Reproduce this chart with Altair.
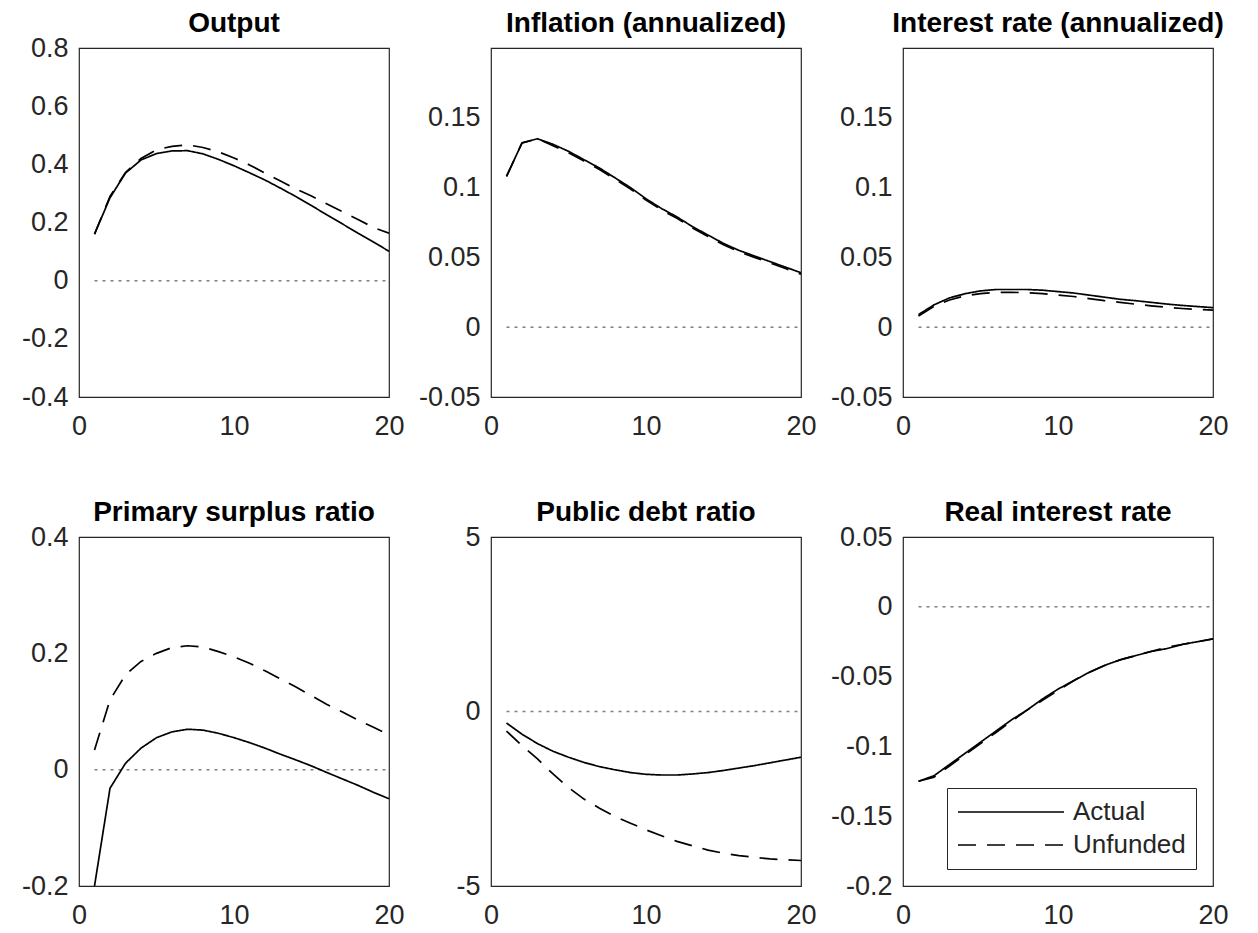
import altair as alt
import pandas as pd

# ---------------- data ----------------
T = list(range(1, 21))

output_actual = [0.160, 0.285, 0.370, 0.415, 0.437, 0.446, 0.447, 0.436, 0.417, 0.395,
                 0.371, 0.346, 0.318, 0.289, 0.258, 0.226, 0.195, 0.163, 0.133, 0.101]
output_unfunded = [0.160, 0.290, 0.372, 0.420, 0.450, 0.462, 0.467, 0.458, 0.443, 0.422,
                   0.398, 0.370, 0.343, 0.315, 0.291, 0.264, 0.237, 0.210, 0.183, 0.163]

inflation_actual = [0.108, 0.132, 0.135, 0.131, 0.126, 0.120, 0.114, 0.107, 0.100, 0.092,
                    0.085, 0.079, 0.072, 0.066, 0.060, 0.055, 0.051, 0.047, 0.043, 0.039]
inflation_unfunded = [0.108, 0.132, 0.135, 0.130, 0.125, 0.119, 0.113, 0.106, 0.099, 0.091,
                      0.084, 0.078, 0.071, 0.065, 0.059, 0.054, 0.050, 0.046, 0.042, 0.038]

interest_actual = [0.009, 0.016, 0.021, 0.024, 0.026, 0.027, 0.027, 0.027, 0.0265, 0.0255,
                   0.0245, 0.023, 0.0215, 0.020, 0.019, 0.0178, 0.0166, 0.0156, 0.0148, 0.014]
interest_unfunded = [0.008, 0.015, 0.0195, 0.0225, 0.024, 0.025, 0.025, 0.0247, 0.024, 0.023,
                     0.022, 0.0205, 0.019, 0.0178, 0.0165, 0.0153, 0.0143, 0.0134, 0.0127, 0.0122]

surplus_actual = [-0.200, -0.032, 0.011, 0.037, 0.055, 0.065, 0.0695, 0.068, 0.0625, 0.055,
                  0.0465, 0.037, 0.0265, 0.0167, 0.0064, -0.005, -0.016, -0.027, -0.039, -0.050]
surplus_unfunded = [0.034, 0.120, 0.163, 0.186, 0.200, 0.210, 0.213, 0.211, 0.203, 0.194,
                    0.183, 0.170, 0.156, 0.142, 0.127, 0.112, 0.099, 0.085, 0.073, 0.060]

debt_actual = [-0.33, -0.65, -0.92, -1.14, -1.31, -1.46, -1.58, -1.67, -1.75, -1.80,
               -1.82, -1.82, -1.79, -1.75, -1.69, -1.62, -1.55, -1.47, -1.39, -1.31]
debt_unfunded = [-0.56, -0.98, -1.36, -1.79, -2.18, -2.51, -2.77, -3.01, -3.20, -3.39,
                 -3.56, -3.72, -3.85, -3.97, -4.06, -4.13, -4.18, -4.22, -4.25, -4.27]

real_actual = [-0.125, -0.121, -0.113, -0.105, -0.097, -0.089, -0.081, -0.074, -0.066, -0.059,
               -0.053, -0.047, -0.042, -0.038, -0.035, -0.032, -0.030, -0.027, -0.025, -0.023]
real_unfunded = [-0.125, -0.122, -0.114, -0.106, -0.098, -0.090, -0.082, -0.074, -0.067, -0.060,
                 -0.053, -0.047, -0.042, -0.038, -0.035, -0.032, -0.029, -0.027, -0.025, -0.023]

titles = ["Output", "Inflation (annualized)", "Interest rate (annualized)",
          "Primary surplus ratio", "Public debt ratio", "Real interest rate"]
series_names = ["Actual", "Unfunded"]
y_domains = [[-0.4, 0.8], [-0.05, 0.2], [-0.05, 0.2], [-0.2, 0.4], [-5, 5], [-0.2, 0.05]]
# tick positions; the top value 0.2 of the two rate panels has no visible label
y_ticks = [[-0.4, -0.2, 0, 0.2, 0.4, 0.6, 0.8],
           [-0.05, 0, 0.05, 0.1, 0.15, 0.2],
           [-0.05, 0, 0.05, 0.1, 0.15, 0.2],
           [-0.2, 0, 0.2, 0.4],
           [-5, 0, 5],
           [-0.2, -0.15, -0.1, -0.05, 0, 0.05]]
hidden_label = [None, 0.2, 0.2, None, None, None]
x_ticks = [0, 10, 20]
x_domain = [0, 20]
zero_t = [1, 20]
zero_v = [0, 0]

actual_all = [output_actual, inflation_actual, interest_actual,
              surplus_actual, debt_actual, real_actual]
unfunded_all = [output_unfunded, inflation_unfunded, interest_unfunded,
                surplus_unfunded, debt_unfunded, real_unfunded]

rows = []
for i, name in enumerate(titles):
    for s, vals in zip(series_names, [actual_all[i], unfunded_all[i]]):
        for t, v in zip(T, vals):
            rows.append({"panel": name, "series": s, "t": t, "value": v})
df = pd.DataFrame(rows)
zero_df = pd.DataFrame({"t": zero_t, "value": zero_v})

FONT = "Liberation Sans"
AX = "#262626"


def panel(i):
    name = titles[i]
    xenc = alt.X("t:Q", scale=alt.Scale(domain=x_domain, nice=False, zero=False),
                 axis=alt.Axis(values=x_ticks, title=None, labelPadding=16,
                               labelExpr="'' + datum.value"))
    yaxis_kw = dict(values=y_ticks[i], title=None, labelPadding=11,
                    labelExpr="'' + datum.value")
    if hidden_label[i] is not None:
        yaxis_kw["labelOpacity"] = {"condition": {"test": "datum.value > %g" % (hidden_label[i] - 0.01),
                                                  "value": 0}, "value": 1}
    yenc = alt.Y("value:Q", scale=alt.Scale(domain=y_domains[i], nice=False, zero=False),
                 axis=alt.Axis(**yaxis_kw))
    if i == 5:
        legend = alt.Legend(title=None, orient="bottom-right", offset=17,
                            symbolType="stroke", symbolSize=11236, symbolStrokeWidth=1.6,
                            symbolStrokeColor="black", clipHeight=28, rowPadding=5,
                            labelFont=FONT, labelFontSize=26, labelColor=AX, labelOffset=8,
                            padding=10, strokeColor=AX, fillColor="white")
    else:
        legend = None
    zero = alt.Chart(zero_df).mark_line(
        color="#808080", strokeDash=[3, 5], strokeWidth=1.5
    ).encode(x=xenc, y=yenc)
    lines = alt.Chart(df).transform_filter(alt.datum.panel == name).mark_line(
        color="black", strokeWidth=1.7, clip=True
    ).encode(
        x=xenc, y=yenc,
        strokeDash=alt.StrokeDash("series:N",
                                  scale=alt.Scale(domain=series_names, range=[[1, 0], [18, 11]]),
                                  legend=legend),
    )
    return alt.layer(zero, lines).properties(
        width=310, height=349,
        title=alt.TitleParams(text=name, fontSize=28, fontWeight="bold", font=FONT,
                              color="black", offset=-26, baseline="alphabetic",
                              anchor="middle", frame="group"),
    )


row1 = alt.hconcat(panel(0), panel(1), panel(2), spacing=102, bounds="flush") \
    .resolve_scale(strokeDash="independent").resolve_legend(strokeDash="independent")
row2 = alt.hconcat(panel(3), panel(4), panel(5), spacing=102, bounds="flush") \
    .resolve_scale(strokeDash="independent").resolve_legend(strokeDash="independent")

chart = alt.vconcat(row1, row2, spacing=58) \
    .resolve_scale(strokeDash="independent").resolve_legend(strokeDash="independent") \
    .properties(padding={"left": 12, "top": 1, "right": 5, "bottom": 5}, background="white") \
    .configure_view(stroke=AX, strokeWidth=1.2) \
    .configure_axis(labelFont=FONT, labelFontSize=27, labelColor=AX, domain=False,
                    ticks=False, tickSize=0, grid=False, labelFlush=False, labelOverlap=False)

chart.save("out.html", embed_options={"renderer": "svg", "actions": False})
